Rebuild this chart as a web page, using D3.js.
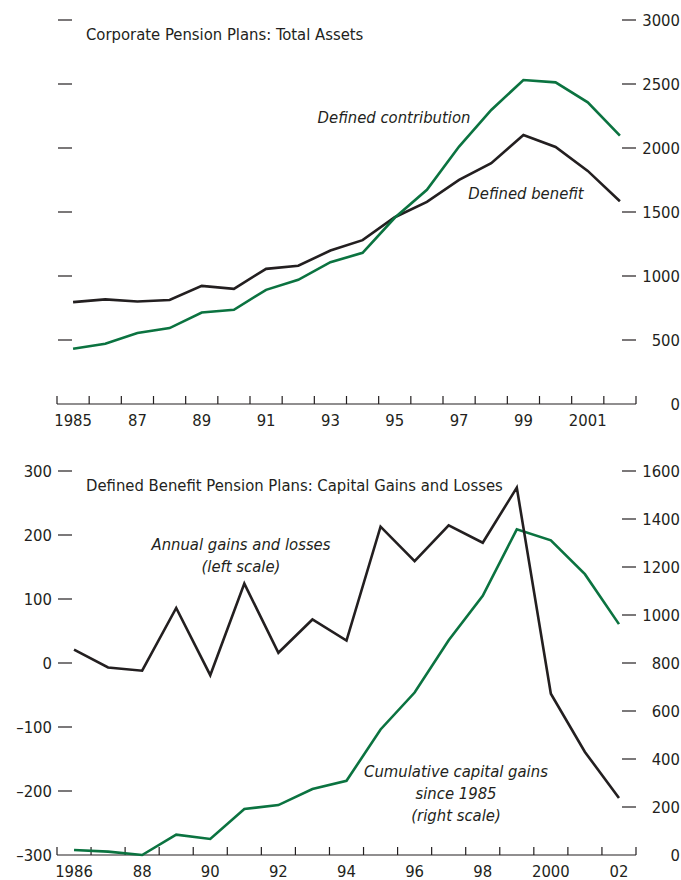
<!DOCTYPE html>
<html>
<head>
<meta charset="utf-8">
<script src="https://cdn.jsdelivr.net/npm/d3@7"></script>
<style>
  body { margin: 0; background: #fff; }
  svg text { font-family: "Liberation Sans Narrow", "DejaVu Sans Condensed", sans-serif; fill: #231f20; }
</style>
</head>
<body>
<div id="chart"></div>
<script>
// Top panel: corporate pension plans, total assets (billions)
var yearsTop = d3.range(1985, 2003);
var definedBenefit = [796, 817, 801, 812, 923, 900, 1056, 1080, 1199, 1280, 1459, 1579, 1751, 1881, 2102, 2008, 1821, 1584];
var definedContribution = [432, 471, 554, 593, 715, 736, 892, 970, 1108, 1181, 1455, 1673, 2011, 2297, 2531, 2513, 2357, 2097];
var topTicks = [0, 500, 1000, 1500, 2000, 2500, 3000];

// Bottom panel: defined benefit plans, capital gains and losses
var yearsBottom = d3.range(1986, 2003);
var annualGains = [21, -7, -12, 86, -19, 124, 16, 68, 35, 213, 159, 215, 188, 274, -48, -139, -211];
var cumulativeGains = [21, 14, 0, 85, 67, 192, 208, 275, 309, 523, 677, 895, 1080, 1357, 1311, 1170, 962];
var leftTicks = [-300, -200, -100, 0, 100, 200, 300];
var rightTicks = [0, 200, 400, 600, 800, 1000, 1200, 1400, 1600];

var green = "#0b7340", ink = "#231f20";
var x0 = 57, x1 = 636;
var fs = 16.5;

var svg = d3.select("#chart").append("svg")
  .attr("width", 681)
  .attr("height", 880);

function yearAxis(g, x, years, baseY, fmt){
  var bw = x.bandwidth();
  g.append("line")
    .attr("x1", x0).attr("x2", x1)
    .attr("y1", baseY).attr("y2", baseY)
    .attr("stroke", ink).attr("stroke-width", 1.2);
  var edges = years.map(d => x(d)).concat([x(years[years.length-1]) + bw]);
  g.selectAll(null).data(edges).enter().append("line")
    .attr("x1", d => d).attr("x2", d => d)
    .attr("y1", baseY).attr("y2", baseY - 8)
    .attr("stroke", ink).attr("stroke-width", 1.2);
  g.selectAll(null).data(years.filter((d, i) => i % 2 == 0)).enter().append("text")
    .attr("x", d => x(d) + bw/2)
    .attr("y", baseY + 22)
    .attr("text-anchor", "middle")
    .style("font-size", fs + "px")
    .text(fmt);
}

function dashes(g, y, vals, xa, xb){
  g.selectAll(null).data(vals).enter().append("line")
    .attr("x1", xa).attr("x2", xb)
    .attr("y1", d => y(d)).attr("y2", d => y(d))
    .attr("stroke", ink).attr("stroke-width", 1.2);
}

function labels(g, y, vals, xp, fmt){
  g.selectAll(null).data(vals).enter().append("text")
    .attr("x", xp)
    .attr("y", d => y(d))
    .attr("dy", "0.35em")
    .attr("text-anchor", "end")
    .style("font-size", fs + "px")
    .text(fmt);
}

function series(g, x, y, years, vals, col){
  var line = d3.line()
    .x((d, i) => x(years[i]) + x.bandwidth()/2)
    .y(d => y(d));
  g.append("path")
    .datum(vals)
    .attr("d", line)
    .attr("fill", "none")
    .attr("stroke", col)
    .attr("stroke-width", 2.6)
    .attr("stroke-linejoin", "miter");
}

function note(g, xp, yp, lines){
  var t = g.append("text")
    .attr("text-anchor", "middle")
    .style("font-size", fs + "px")
    .style("font-style", "italic");
  lines.forEach(function(s, i){
    t.append("tspan").attr("x", xp).attr("y", yp + i*22).text(s);
  });
}

// ---- top panel
var topG = svg.append("g");
var xT = d3.scaleBand().domain(yearsTop).range([x0, x1]);
var yT = d3.scaleLinear().domain([0, 3000]).range([404, 20]);

dashes(topG, yT, topTicks.slice(1), 58, 72);
dashes(topG, yT, topTicks.slice(1), 622, 636);
labels(topG, yT, topTicks, 680, d => d);
yearAxis(topG, xT, yearsTop, 404, d => (d == 1985 || d >= 2000 ? String(d) : String(d).slice(2)));

series(topG, xT, yT, yearsTop, definedBenefit, ink);
series(topG, xT, yT, yearsTop, definedContribution, green);

topG.append("text")
  .attr("x", 86).attr("y", 40)
  .style("font-size", fs + "px")
  .text("Corporate Pension Plans: Total Assets");
note(topG, 394, 123, ["Defined contribution"]);
note(topG, 526, 199, ["Defined benefit"]);

// ---- bottom panel
var botG = svg.append("g");
var xB = d3.scaleBand().domain(yearsBottom).range([x0, x1]);
var yL = d3.scaleLinear().domain([-300, 300]).range([855, 471]);
var yR = d3.scaleLinear().domain([0, 1600]).range([855, 471]);

dashes(botG, yL, leftTicks.slice(1), 58, 72);
dashes(botG, yR, rightTicks.slice(1), 622, 636);
labels(botG, yL, leftTicks, 52, d => (d < 0 ? "\u2013" + Math.abs(d) : d));
labels(botG, yR, rightTicks, 680, d => d);
yearAxis(botG, xB, yearsBottom, 855, d => (d == 1986 || d == 2000 ? String(d) : String(d).slice(2)));

series(botG, xB, yR, yearsBottom, cumulativeGains, green);
series(botG, xB, yL, yearsBottom, annualGains, ink);

botG.append("text")
  .attr("x", 86).attr("y", 491)
  .style("font-size", fs + "px")
  .text("Defined Benefit Pension Plans: Capital Gains and Losses");
note(botG, 241, 550, ["Annual gains and losses", "(left scale)"]);
note(botG, 456, 777, ["Cumulative capital gains", "since 1985", "(right scale)"]);
</script>
</body>
</html>
